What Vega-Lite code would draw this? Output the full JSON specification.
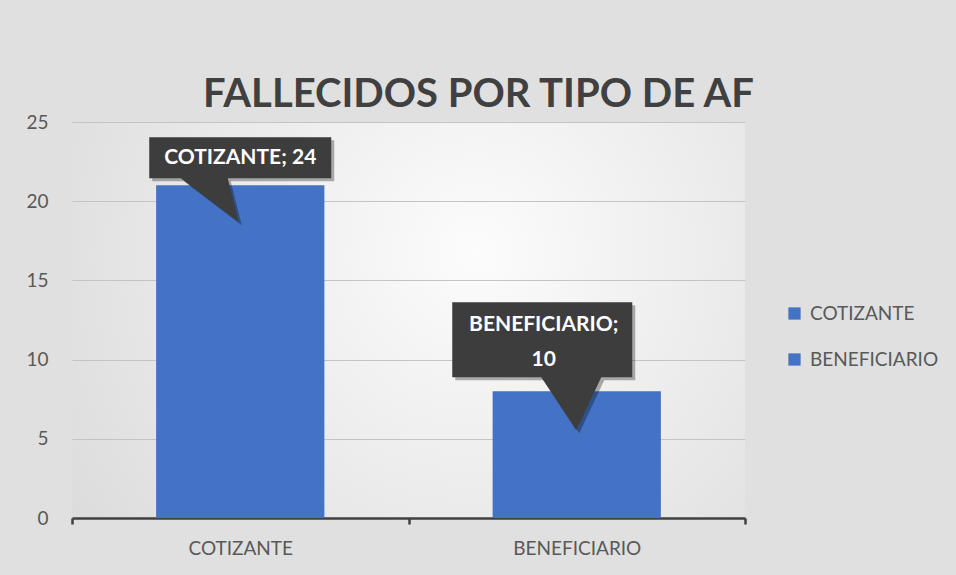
{
  "$schema": "https://vega.github.io/schema/vega-lite/v6.json",
  "width": 673,
  "height": 396,
  "autosize": {"type": "none"},
  "padding": {"left": 72, "top": 122, "right": 211, "bottom": 57},
  "background": "#e0e0e0",
  "config": {
    "font": "Lato",
    "view": {
      "stroke": null,
      "fill": {
        "gradient": "radial",
        "x1": 0.6, "y1": 0.4, "r1": 0,
        "x2": 0.6, "y2": 0.4, "r2": 0.85,
        "stops": [
          {"offset": 0, "color": "#fcfcfc"},
          {"offset": 1, "color": "#d6d6d6"}
        ]
      }
    }
  },
  "title": {
    "text": "FALLECIDOS POR TIPO DE AF",
    "font": "Lato",
    "fontSize": 40,
    "fontWeight": "bold",
    "color": "#404040",
    "anchor": "middle",
    "dx": 70,
    "baseline": "alphabetic",
    "offset": -34
  },
  "data": {
    "values": [
      {"tipo": "COTIZANTE", "valor": 21, "etiqueta": "COTIZANTE; 24"},
      {"tipo": "BENEFICIARIO", "valor": 8, "etiqueta": "BENEFICIARIO;\n10"}
    ]
  },
  "encoding": {
    "x": {
      "field": "tipo",
      "type": "nominal",
      "sort": ["COTIZANTE", "BENEFICIARIO"],
      "scale": {"paddingInner": 0, "paddingOuter": 0},
      "axis": {
        "title": null,
        "labelAngle": 0,
        "tickBand": "extent",
        "domainColor": "#404040",
        "domainWidth": 2.5,
        "tickColor": "#404040",
        "tickWidth": 2.5,
        "tickSize": 6,
        "labelFontSize": 19,
        "labelColor": "#595959",
        "labelPadding": 15,
        "grid": false
      }
    },
    "y": {
      "field": "valor",
      "type": "quantitative",
      "scale": {"domain": [0, 25], "nice": false},
      "axis": {
        "title": null,
        "values": [0, 5, 10, 15, 20, 25],
        "domain": false,
        "ticks": false,
        "gridColor": "#c4c4c4",
        "gridWidth": 1.2,
        "labelFontSize": 19,
        "labelColor": "#595959",
        "labelPadding": 24
      }
    }
  },
  "layer": [
    {
      "mark": {"type": "bar", "width": {"band": 0.5}},
      "encoding": {
        "color": {
          "field": "tipo",
          "type": "nominal",
          "sort": ["COTIZANTE", "BENEFICIARIO"],
          "scale": {"range": ["#4472C4", "#4472C4"]},
          "legend": {
            "title": null,
            "orient": "none",
            "legendX": 713,
            "legendY": 182,
            "symbolType": "square",
            "symbolSize": 150,
            "symbolStrokeWidth": 0,
            "labelFontSize": 19,
            "labelColor": "#595959",
            "labelOffset": 6,
            "rowPadding": 26
          }
        }
      }
    },
    {
      "transform": [{"filter": "datum.tipo === 'COTIZANTE'"}],
      "mark": {
        "type": "point",
        "filled": true,
        "size": 10000,
        "shape": "M-1.82,-0.96 L1.82,-0.96 L1.82,-0.14 L-0.25,-0.14 L-0.03,0.74 L-1.19,-0.14 L-1.82,-0.14 Z",
        "color": "#000000",
        "opacity": 0.3,
        "xOffset": 3,
        "yOffset": 3
      },
      "encoding": {}
    },
    {
      "transform": [{"filter": "datum.tipo === 'COTIZANTE'"}],
      "mark": {
        "type": "point",
        "filled": true,
        "size": 10000,
        "shape": "M-1.82,-0.96 L1.82,-0.96 L1.82,-0.14 L-0.25,-0.14 L-0.03,0.74 L-1.19,-0.14 L-1.82,-0.14 Z",
        "color": "#3d3d3d",
        "opacity": 1
      },
      "encoding": {}
    },
    {
      "transform": [{"filter": "datum.tipo === 'COTIZANTE'"}],
      "mark": {
        "type": "text",
        "color": "#ffffff",
        "fontSize": 21,
        "fontWeight": "bold",
        "baseline": "middle",
        "align": "center",
        "dy": -27
      },
      "encoding": {"text": {"field": "etiqueta"}}
    },
    {
      "transform": [{"filter": "datum.tipo === 'BENEFICIARIO'"}],
      "mark": {
        "type": "point",
        "filled": true,
        "size": 10000,
        "shape": "M-2.49,-1.78 L1.11,-1.78 L1.11,-0.28 L0.49,-0.28 L-0.01,0.78 L-0.71,-0.28 L-2.49,-0.28 Z",
        "color": "#000000",
        "opacity": 0.3,
        "xOffset": 3,
        "yOffset": 3
      },
      "encoding": {}
    },
    {
      "transform": [{"filter": "datum.tipo === 'BENEFICIARIO'"}],
      "mark": {
        "type": "point",
        "filled": true,
        "size": 10000,
        "shape": "M-2.49,-1.78 L1.11,-1.78 L1.11,-0.28 L0.49,-0.28 L-0.01,0.78 L-0.71,-0.28 L-2.49,-0.28 Z",
        "color": "#3d3d3d",
        "opacity": 1
      },
      "encoding": {}
    },
    {
      "transform": [{"filter": "datum.tipo === 'BENEFICIARIO'"}],
      "mark": {
        "type": "text",
        "color": "#ffffff",
        "fontSize": 21,
        "fontWeight": "bold",
        "baseline": "middle",
        "align": "center",
        "lineBreak": "\n",
        "lineHeight": 35,
        "dx": -33,
        "dy": -66
      },
      "encoding": {"text": {"field": "etiqueta"}}
    }
  ]
}
